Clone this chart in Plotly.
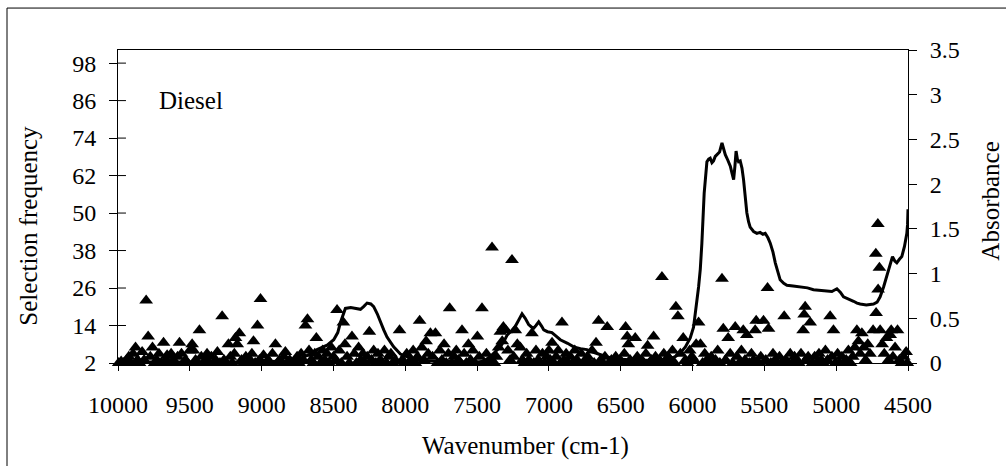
import plotly.graph_objects as go

# ---- Selection frequency (triangles), wavenumber in cm-1 ----
sel_wn = [
    9995, 9978, 9960, 9940, 9925, 9910, 9895, 9878, 9865, 9850,
    9832, 9818, 9804, 9790, 9775, 9760, 9745, 9730, 9715, 9700,
    9683, 9670, 9658, 9645, 9630, 9615, 9600, 9585, 9572, 9558,
    9545, 9530, 9515, 9500, 9484, 9475, 9460, 9445, 9433, 9420,
    9405, 9390, 9380, 9365, 9350, 9335, 9320, 9308, 9290, 9275,
    9262, 9245, 9231, 9218, 9205, 9190, 9182, 9170, 9155, 9140,
    9125, 9110, 9095, 9080, 9068, 9057, 9045, 9029, 9015, 9008,
    8995, 8987, 8970, 8955, 8940, 8925, 8904, 8890, 8875, 8860,
    8845, 8835, 8820, 8805, 8790, 8775, 8753, 8740, 8725, 8710,
    8695, 8681, 8670, 8655, 8640, 8630, 8619, 8605, 8590, 8575,
    8560, 8545, 8530, 8515, 8500, 8485, 8475, 8460, 8445, 8431,
    8420, 8405, 8390, 8371, 8355, 8340, 8325, 8310, 8295, 8280,
    8265, 8250, 8235, 8220, 8205, 8190, 8175, 8160, 8145, 8130,
    8115, 8100, 8085, 8070, 8040, 8020, 8005, 7990, 7975, 7960,
    7945, 7930, 7915, 7900, 7885, 7870, 7855, 7840, 7825, 7810,
    7790, 7775, 7760, 7745, 7730, 7715, 7700, 7691, 7675, 7660,
    7645, 7630, 7615, 7605, 7590, 7575, 7560, 7545, 7530, 7515,
    7498, 7485, 7466, 7450, 7435, 7420, 7405, 7396, 7380, 7365,
    7350, 7338, 7325, 7317, 7300, 7285, 7270, 7257, 7245, 7234,
    7220, 7199, 7185, 7170, 7155, 7140, 7118, 7105, 7090, 7075,
    7060, 7045, 7030, 7015, 7000, 6990, 6978, 6965, 6950, 6935,
    6920, 6909, 6895, 6880, 6865, 6850, 6835, 6820, 6805, 6790,
    6775, 6760, 6745, 6730, 6715, 6700, 6685, 6672, 6654, 6640,
    6625, 6610, 6594, 6580, 6565, 6550, 6535, 6520, 6505, 6490,
    6475, 6466, 6455, 6447, 6435, 6420, 6399, 6385, 6370, 6355,
    6340, 6325, 6313, 6300, 6285, 6271, 6258, 6245, 6230, 6213,
    6200, 6185, 6170, 6155, 6140, 6125, 6116, 6102, 6085, 6065,
    6050, 6035, 6020, 6005, 5990, 5975, 5958, 5945, 5930, 5915,
    5900, 5885, 5870, 5855, 5840, 5825, 5810, 5795, 5786, 5770,
    5752, 5738, 5720, 5703, 5690, 5675, 5660, 5647, 5635, 5622,
    5605, 5590, 5575, 5564, 5557, 5540, 5525, 5506, 5490, 5478,
    5471, 5455, 5440, 5425, 5410, 5395, 5380, 5362, 5350, 5335,
    5320, 5305, 5290, 5275, 5260, 5245, 5230, 5223, 5216, 5210,
    5195, 5181, 5165, 5150, 5135, 5120, 5105, 5090, 5075, 5060,
    5042, 5030, 5019, 5005, 4990, 4975, 4960, 4945, 4930, 4915,
    4900, 4885, 4870, 4856, 4845, 4833, 4821, 4808, 4795, 4780,
    4765, 4743, 4724, 4722, 4710, 4708, 4699, 4694, 4680, 4665,
    4650, 4635, 4624, 4617, 4605, 4590, 4573, 4560, 4545, 4530,
    4513, 4505,
]
sel_freq = [
    2, 2.5, 2, 3, 4, 2, 5, 7, 3, 2,
    5.5, 3, 22, 10.5, 4, 7, 2, 3, 5, 2,
    8.5, 3, 4.5, 2, 5, 3, 2, 4, 8.5, 5,
    2, 3, 2, 6, 8, 6, 3, 2, 12.5, 4,
    2, 3, 5, 2, 4, 2, 3, 5.5, 2, 17,
    3, 2, 8, 4, 2, 5, 10, 8, 11.5, 3,
    2, 4, 2, 3, 5, 9, 2, 14, 3, 22.5,
    2, 4.5, 2, 3, 2, 5, 8, 2, 3, 2,
    4, 5.5, 2, 3, 2, 2, 4, 2, 5, 3,
    14, 16, 6, 3, 2, 5, 10, 4, 2, 6,
    3, 5, 2, 7, 4, 3, 19, 6, 2, 15,
    8, 4, 2, 10.5, 5, 2, 7, 3, 5, 2,
    4, 12, 3, 6, 2, 5, 3, 2, 6, 2,
    4, 5, 2, 3, 12.5, 3, 2, 5, 2, 3,
    6, 2, 4, 15.5, 7, 3, 9, 5, 11.5, 4,
    11.5, 2, 6, 3, 8, 2, 5, 19.5, 2, 4,
    6, 3, 2, 12.5, 5, 2, 8, 3, 6, 2,
    10.5, 4, 19.5, 2, 5, 2, 3, 39, 2, 4,
    7, 12, 9, 13.5, 12.5, 6, 3, 35, 4, 12.5,
    8, 7, 3, 2, 5, 3, 11.5, 2, 6, 3,
    2, 5, 2, 4, 6, 3, 8.5, 2, 4, 6,
    2, 15, 3, 5, 2, 4, 2, 6, 3, 2,
    5, 2, 3, 4, 2, 6, 2, 8.5, 15.5, 3,
    2, 4, 13.5, 2, 3, 2, 4, 2, 3, 2,
    5, 13.5, 10.5, 8, 3, 2, 10, 4, 2, 3,
    2, 5, 7.5, 2, 3, 10.5, 4, 2, 3, 29.5,
    5, 2, 4, 3, 6, 2, 20, 17, 5, 10,
    3, 2, 6, 4, 3, 8, 15, 8, 2, 5,
    3, 2, 4, 2, 3, 6, 2, 29, 13, 3,
    10, 5, 2, 13.5, 4, 2, 6, 12.5, 3, 11,
    2, 5, 3, 12.5, 15.5, 2, 4, 15.5, 3, 26,
    13, 2, 5, 3, 2, 4, 2, 17, 3, 2,
    5, 2, 4, 3, 2, 5, 12.5, 17.5, 20, 3,
    4, 15, 2, 4, 2, 5, 3, 2, 6, 3,
    17, 4, 12.5, 2, 5, 2, 4, 2, 3, 6,
    2, 4, 7, 12.5, 9, 5, 11.5, 7, 3, 8,
    5, 12.5, 37, 18, 46.5, 25.5, 32.5, 12.5, 8, 5,
    10, 3, 11, 12.5, 4, 7, 12.5, 3, 2, 4,
    5.5, 2,
]

# ---- Absorbance spectrum ----
spec_wn = [
    10000, 9800, 9600, 9400, 9200, 9000, 8900, 8800, 8753, 8700,
    8650, 8614, 8580, 8544, 8498, 8470, 8452, 8430, 8417, 8380,
    8340, 8312, 8290, 8266, 8240, 8220, 8195, 8173, 8150, 8127,
    8100, 8081, 8034, 7960, 7895, 7800, 7700, 7600, 7500, 7455,
    7410, 7370, 7338, 7310, 7292, 7260, 7234, 7210, 7187, 7165,
    7141, 7120, 7106, 7090, 7071, 7050, 7036, 7010, 6979, 6950,
    6921, 6870, 6828, 6780, 6735, 6690, 6642, 6600, 6549, 6480,
    6410, 6300, 6178, 6120, 6086, 6050, 6016, 5993, 5969, 5958,
    5946, 5935, 5919, 5900, 5888, 5877, 5865, 5854, 5842, 5830,
    5812, 5795, 5783, 5772, 5755, 5737, 5725, 5714, 5705, 5697,
    5688, 5680, 5668, 5656, 5645, 5633, 5622, 5610, 5599, 5575,
    5552, 5530, 5510, 5494, 5475, 5459, 5440, 5424, 5405, 5390,
    5365, 5343, 5300, 5250, 5200, 5158, 5110, 5065, 5030, 4995,
    4970, 4949, 4915, 4879, 4855, 4833, 4790, 4740, 4715, 4694,
    4670, 4647, 4625, 4608, 4592, 4578, 4560, 4543, 4525, 4508,
    4503, 4500,
]
spec_abs = [
    0.01, 0.01, 0.01, 0.01, 0.01, 0.01, 0.02, 0.02, 0.03, 0.07,
    0.11, 0.15, 0.17, 0.20, 0.26, 0.34, 0.45, 0.55, 0.61, 0.62,
    0.61, 0.60, 0.63, 0.67, 0.66, 0.63, 0.55, 0.45, 0.37, 0.29,
    0.22, 0.18, 0.10, 0.05, 0.03, 0.02, 0.02, 0.01, 0.01, 0.02,
    0.07, 0.13, 0.18, 0.25, 0.31, 0.36, 0.41, 0.48, 0.55, 0.50,
    0.43, 0.40, 0.39, 0.42, 0.46, 0.41, 0.37, 0.35, 0.34, 0.30,
    0.26, 0.22, 0.18, 0.16, 0.15, 0.12, 0.09, 0.07, 0.05, 0.04,
    0.03, 0.03, 0.04, 0.07, 0.11, 0.18, 0.28, 0.40, 0.68, 0.85,
    1.05, 1.34, 1.90, 2.25, 2.28, 2.29, 2.24, 2.26, 2.31, 2.33,
    2.36, 2.46, 2.38, 2.33, 2.27, 2.20, 2.12, 2.05, 2.20, 2.37,
    2.28, 2.25, 2.26, 2.18, 2.05, 1.85, 1.68, 1.58, 1.52, 1.47,
    1.45, 1.46, 1.44, 1.45, 1.40, 1.34, 1.24, 1.12, 1.00, 0.93,
    0.89, 0.87, 0.86, 0.85, 0.84, 0.82, 0.81, 0.80, 0.80, 0.83,
    0.79, 0.74, 0.72, 0.69, 0.67, 0.66, 0.65, 0.66, 0.68, 0.74,
    0.85, 0.97, 1.10, 1.19, 1.14, 1.12, 1.16, 1.19, 1.30, 1.45,
    1.55, 1.72,
]

x_ticks = [10000, 9500, 9000, 8500, 8000, 7500, 7000, 6500, 6000, 5500, 5000, 4500]
x_tick_text = ["10000", "9500", "9000", "8500", "8000", "7500", "7000",
               "6500", "6000", "5500", "5000", "4500"]
y_left_ticks = [2, 14, 26, 38, 50, 62, 74, 86, 98]
y_right_ticks = [0, 0.5, 1, 1.5, 2, 2.5, 3, 3.5]
y_right_text = ["0", "0.5", "1", "1.5", "2", "2.5", "3", "3.5"]

FONT = "Tinos"

fig = go.Figure()
fig.add_trace(go.Scatter(
    x=sel_wn, y=sel_freq, mode="markers", yaxis="y",
    marker=dict(symbol="triangle-up", size=12, color="black"),
    cliponaxis=False, showlegend=False,
))
fig.add_trace(go.Scatter(
    x=spec_wn, y=spec_abs, mode="lines", yaxis="y2",
    line=dict(color="black", width=3), showlegend=False,
))

tick_font = dict(family=FONT, size=24)
title_font = dict(family=FONT, size=25)

fig.update_layout(
    width=1006, height=466,
    margin=dict(l=118, r=98, t=50, b=103),
    paper_bgcolor="white", plot_bgcolor="white",
    font=dict(family=FONT, size=24, color="#000000"),
    xaxis=dict(range=[10000, 4500], tickmode="array", tickvals=x_ticks,
               ticktext=x_tick_text, tickfont=tick_font,
               ticks="outside", ticklen=7, tickcolor="black",
               showline=True, linewidth=1, linecolor="black",
               mirror=True, ticklabelstandoff=13, showgrid=False, zeroline=False),
    yaxis=dict(range=[2, 102.2], tickmode="array", tickvals=y_left_ticks,
               tickfont=tick_font, ticks="outside", ticklen=8, tickcolor="black",
               showline=True, linewidth=1, linecolor="black",
               ticklabelstandoff=8, showgrid=False, zeroline=False),
    yaxis2=dict(range=[0, 3.5], overlaying="y", side="right", tickmode="array",
                tickvals=y_right_ticks, ticktext=y_right_text, tickfont=tick_font,
                ticks="outside", ticklen=8, tickcolor="black",
                showline=True, linewidth=1, linecolor="black",
                ticklabelstandoff=8, showgrid=False, zeroline=False),
    annotations=[
        dict(text="Diesel", x=0.049, y=0.84, xref="paper", yref="paper",
             xanchor="left", yanchor="middle", showarrow=False, font=title_font),
        dict(text="Selection frequency", x=-0.113, y=0.438, xref="paper", yref="paper",
             xanchor="center", yanchor="middle", textangle=-90, showarrow=False,
             font=title_font),
        dict(text="Absorbance", x=1.104, y=0.516, xref="paper", yref="paper",
             xanchor="center", yanchor="middle", textangle=-90, showarrow=False,
             font=title_font),
        dict(text="Wavenumber (cm-1)", x=0.516, y=-0.265, xref="paper", yref="paper",
             xanchor="center", yanchor="middle", showarrow=False, font=title_font),
    ],
    shapes=[
        dict(type="rect", xref="paper", yref="paper",
             x0=-0.1405, x1=1.13, y0=-0.36, y1=1.134,
             line=dict(color="black", width=1), fillcolor="rgba(0,0,0,0)", layer="below"),
    ] + [
        # inner half of the crossing ticks on the left axis
        dict(type="line", xref="paper", yref="y", x0=0, x1=0.0101, y0=v, y1=v,
             line=dict(color="black", width=1))
        for v in y_left_ticks
    ],
)

fig.write_html("out.html")
